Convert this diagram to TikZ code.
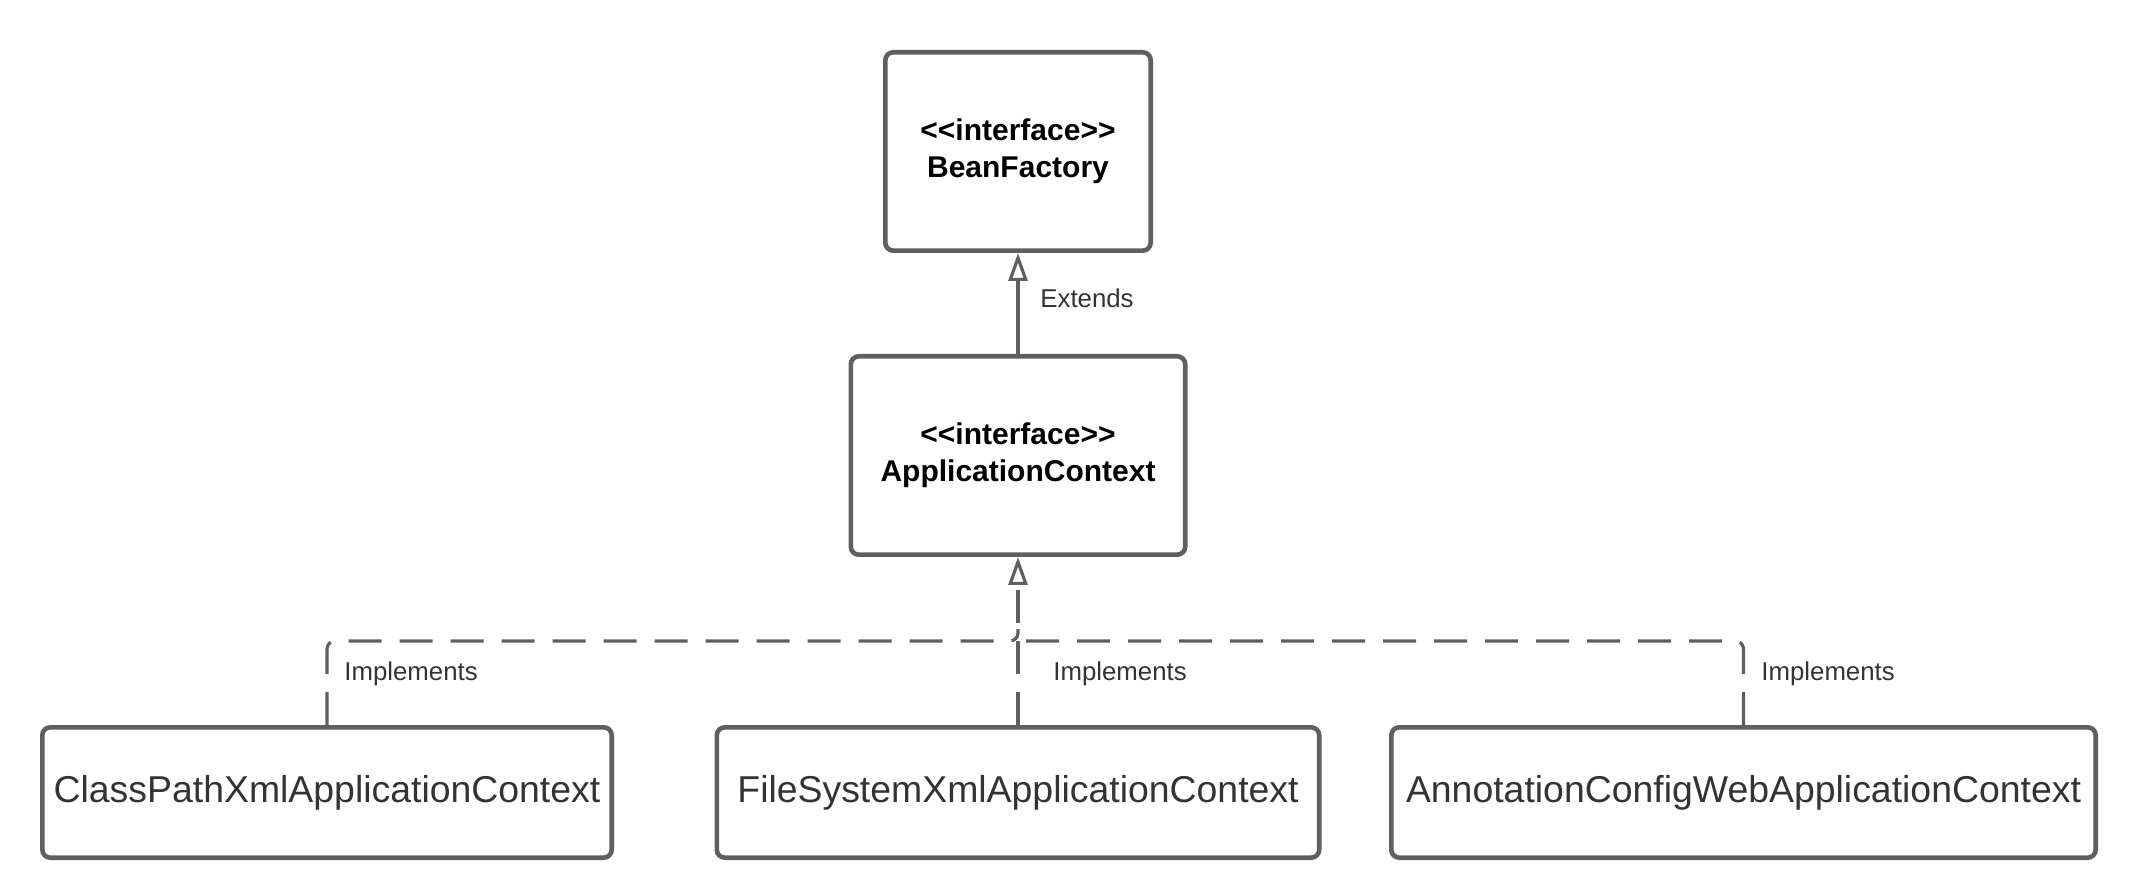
\documentclass[tikz,border=0pt]{standalone}
\usepackage{fontspec}
\newfontfamily\umlfont{Liberation Sans}
\usetikzlibrary{positioning,arrows.meta,calc}
\definecolor{linegray}{HTML}{5F5F5F}
\definecolor{textgray}{HTML}{333333}

\begin{document}
\begin{tikzpicture}[x=0.5pt,y=-0.5pt,
        iface/.style={draw=linegray,line width=2.3pt,rounded corners=4pt,align=center,
            font=\umlfont\fontsize{15}{18.35}\selectfont\bfseries,minimum height=99.2pt},
        klass/.style={draw=linegray,line width=2.3pt,rounded corners=4pt,text=textgray,
            font=\umlfont\fontsize{18.7}{22}\selectfont,minimum height=65.2pt},
        rel/.style={linegray,line width=1.6pt,-{Triangle[open,width=9.5pt,length=14pt]}},
        realize/.style={rel,dash pattern=on 16.5pt off 9pt,rounded corners=4pt},
        lbl/.style={anchor=base west,inner sep=0pt,text=textgray,
            font=\umlfont\fontsize{12.9}{15}\selectfont}]
        \useasboundingbox (0,0) rectangle (2141,881);
        % interfaces
        \node[iface,minimum width=132.7pt] (bean) at (1018,151.5) {<<interface>>\\BeanFactory};
        \node[iface,minimum width=167.2pt] (appctx) at (1018,455.5) {<<interface>>\\ApplicationContext};
        % implementations
        \node[klass,minimum width=284.7pt] (cp) at (327,792.5) {ClassPathXmlApplicationContext};
        \node[klass,minimum width=301.2pt] (fs) at (1018,792.5) {FileSystemXmlApplicationContext};
        \node[klass,minimum width=352.2pt] (ac) at (1743.5,792.5) {AnnotationConfigWebApplicationContext};
        % connectors
        \draw[rel] (appctx.north) -- (bean.south);
        \coordinate (join) at (1018,641);
        \coordinate (merge) at (1018,629);
        \draw[realize] (fs.north) -- (appctx.south);
        \foreach \cls in {cp, ac}
        \draw[realize,-] (\cls.north) |- (join) -- (merge);
        % labels
        \node[lbl] (ext) at (1040,308) {Extends};
        \node[lbl] (implcp) at (344,680) {Implements};
        \node[lbl] (implfs) at (1053,680) {Implements};
        \node[lbl] (implac) at (1761,680) {Implements};
    \end{tikzpicture}
\end{document}
